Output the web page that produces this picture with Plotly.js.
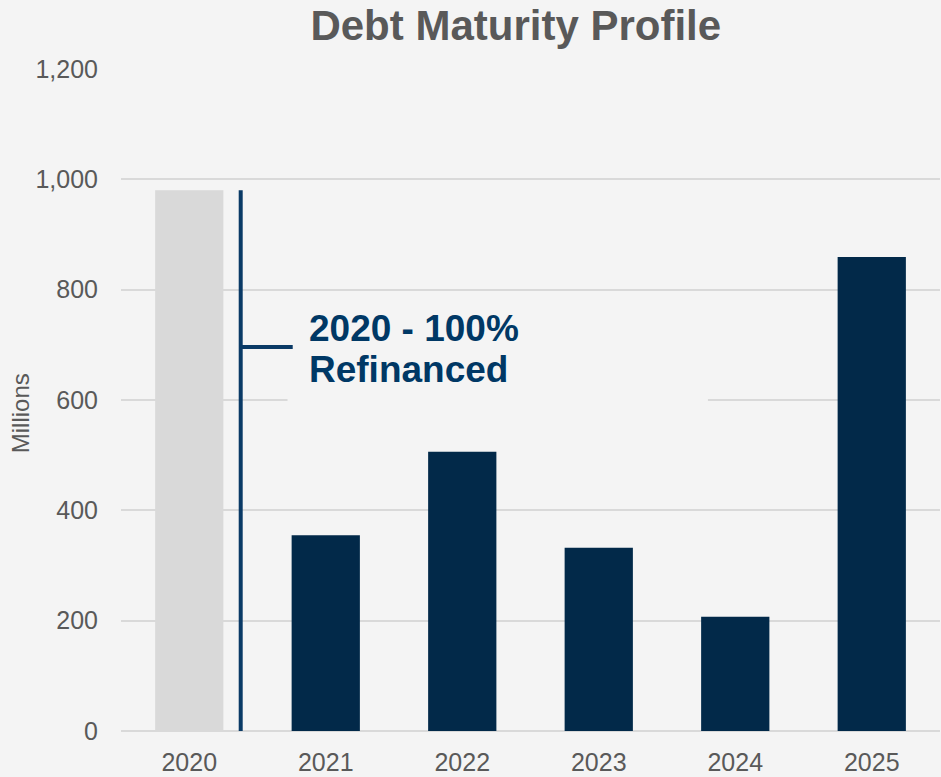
<!DOCTYPE html>
<html><head><meta charset="utf-8">
<script src="https://cdn.plot.ly/plotly-3.0.1.min.js"></script>
<style>html,body{margin:0;padding:0;background:#f4f4f4;}</style>
</head><body><div id="chart" style="width:941px;height:777px;"></div>
<script>
const years = ['2020','2021','2022','2023','2024','2025'];
const maturities = [980, 355, 506, 332, 207, 859];
const barColors = ['#d9d9d9','#022949','#022949','#022949','#022949','#022949'];
const yTicks = [0,200,400,600,800,1000,1200];
const yTickText = ['0','200','400','600','800','1,000','1,200'];
const noteLines = ['2020 - 100%','Refinanced'];

const FONT = "'Liberation Sans', Arial, sans-serif";
const lineColor = '#0a3a66';

const data = [{
  type:'bar', x: years, y: maturities,
  marker:{color: barColors, line:{width:0}},
  hoverinfo:'skip'
}];

const layout = {
  width:941, height:777,
  paper_bgcolor:'#f4f4f4', plot_bgcolor:'#f4f4f4',
  margin:{l:121, r:1, t:69, b:46},
  bargap:0.5,
  showlegend:false,
  font:{family:FONT, color:'#595959'},
  title:{text:'<b>Debt Maturity Profile</b>', font:{family:FONT, size:42, color:'#595959'},
         xref:'paper', x:0.482, xanchor:'center', yref:'container', y:0.968, yanchor:'middle'},
  xaxis:{type:'category', range:[-0.5,5.5], showgrid:false, zeroline:false, showline:false,
         ticks:'', tickfont:{size:25, color:'#595959', family:FONT}, ticklabelstandoff:14, fixedrange:true},
  yaxis:{range:[0,1200], tickvals:yTicks, ticktext:yTickText, showgrid:true, gridcolor:'#d9d9d9', gridwidth:2,
         zeroline:true, zerolinecolor:'#d9d9d9', zerolinewidth:2, showline:false, ticks:'',
         tickfont:{size:25, color:'#595959', family:FONT}, ticklabelstandoff:22, fixedrange:true},
  shapes:[
    {type:'rect', xref:'x', yref:'y', x0:0.72, x1:3.8, y0:582, y1:781, fillcolor:'#f4f4f4', line:{width:0}, layer:'between'},
    {type:'line', xref:'x', yref:'y', x0:0.377, x1:0.377, y0:0, y1:maturities[0], line:{color:lineColor, width:4}},
    {type:'line', xref:'x', yref:'y', x0:0.377, x1:0.758, y0:696, y1:696, line:{color:lineColor, width:4}}
  ],
  annotations:[
    {text:'<b>'+noteLines[0]+'</b>', xref:'x', yref:'y', x:0.861, y:729, xanchor:'left', yanchor:'middle', showarrow:false,
     font:{family:FONT, size:37, color:'#003865'}},
    {text:'<b>'+noteLines[1]+'</b>', xref:'x', yref:'y', x:0.861, y:656, xanchor:'left', yanchor:'middle', showarrow:false,
     font:{family:FONT, size:37, color:'#003865'}},
    {text:'Millions', xref:'paper', yref:'paper', x:(20-121)/819, y:0.48, xanchor:'center', yanchor:'middle', textangle:-90,
     showarrow:false, font:{family:FONT, size:24, color:'#595959'}}
  ]
};
Plotly.newPlot('chart', data, layout, {displayModeBar:false, staticPlot:true});
</script></body></html>
